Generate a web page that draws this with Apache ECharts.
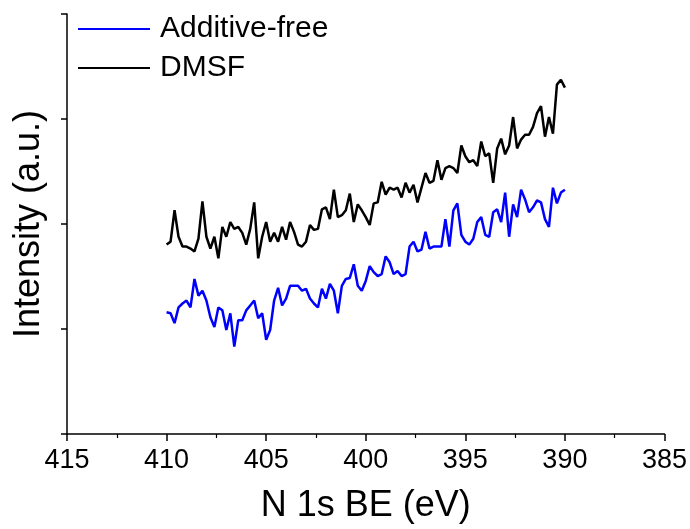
<!DOCTYPE html>
<html>
<head>
<meta charset="utf-8">
<script src="https://cdn.jsdelivr.net/npm/echarts@6/dist/echarts.min.js"></script>
<style>html,body{margin:0;padding:0;background:#fff}#c{width:690px;height:529px}</style>
</head>
<body>
<div id="c"></div>
<script>
// Binding energy scan grid (eV), 410 -> 390 in 0.2 eV steps
const energyStart = 410;
const energyStep = 0.2;
// Intensity (a.u.)
const additiveFree = [
  124,123,113,129,133,136,129,158,141,
  146,136,119,109,129,126,106,123,89,116,
  116,126,131,136,118,123,96,106,136,149,
  131,138,151,151,151,146,148,138,133,129,
  148,138,153,146,123,151,158,159,173,151,
  146,156,171,165,161,163,181,175,163,166,
  161,163,191,196,186,188,206,189,191,191,
  191,219,191,228,235,203,196,193,199,216,
  221,203,201,226,229,216,246,201,234,221,
  249,239,226,231,238,236,219,211,251,235,
  246,249
];
const dmsf = [
  193,196,228,201,191,191,189,186,199,
  237,201,189,201,179,211,201,216,209,211,
  205,193,209,236,179,201,216,196,205,196,
  211,198,216,206,193,191,196,213,208,209,
  229,231,219,249,221,223,228,245,216,234,
  228,221,213,235,236,257,244,251,249,251,
  241,256,246,254,236,251,266,256,258,279,
  259,271,273,271,266,294,283,277,279,273,
  298,283,286,256,291,301,285,294,323,291,
  300,305,305,313,327,334,303,323,306,356,
  361,353
];
const seriesNames = ['Additive-free', 'DMSF'];
const xTicks = [385, 390, 395, 400, 405, 410, 415];

const energy = additiveFree.map((_, i) => +(energyStart - energyStep * i).toFixed(1));
const pair = arr => arr.map((v, i) => [energy[i], v]);

const FONT = '"Liberation Sans", Arial, sans-serif';
const chart = echarts.init(document.getElementById('c'), null, {renderer: 'canvas'});
chart.setOption({
  animation: false,
  backgroundColor: '#fff',
  grid: {left: 67, right: 23, top: 14, bottom: 88, containLabel: false},
  legend: {
    orient: 'vertical', left: 73, top: 7,
    icon: 'rect', itemWidth: 72, itemHeight: 2, itemGap: 5,
    textStyle: {fontFamily: FONT, fontSize: 30, color: '#000', padding: [0, 0, 0, 5], lineHeight: 34},
    data: seriesNames
  },
  xAxis: {
    type: 'value', inverse: true,
    min: xTicks[0], max: xTicks[xTicks.length - 1], interval: 5,
    name: 'N 1s BE (eV)', nameLocation: 'middle', nameGap: 54,
    nameTextStyle: {fontFamily: FONT, fontSize: 36, color: '#000'},
    axisLine: {show: true, onZero: false, lineStyle: {color: '#000', width: 1.5}},
    axisTick: {show: true, length: 7, lineStyle: {color: '#000', width: 1.5}},
    minorTick: {show: true, splitNumber: 2, length: 4, lineStyle: {color: '#000', width: 1.2}},
    axisLabel: {fontFamily: FONT, fontSize: 27, color: '#000', margin: 13},
    splitLine: {show: false}
  },
  yAxis: {
    type: 'value', min: 0, max: 428, interval: 107,
    name: 'Intensity (a.u.)', nameLocation: 'middle', nameGap: 20, nameRotate: 90,
    nameTextStyle: {fontFamily: FONT, fontSize: 36, color: '#000'},
    axisLine: {show: true, onZero: false, lineStyle: {color: '#000', width: 1.5}},
    axisTick: {show: true, length: 6, lineStyle: {color: '#000', width: 1.5}},
    axisLabel: {show: false},
    splitLine: {show: false}
  },
  series: [
    {name: seriesNames[0], type: 'line', symbol: 'none', data: pair(additiveFree),
     lineStyle: {color: '#0000ff', width: 2.5}, itemStyle: {color: '#0000ff'}},
    {name: seriesNames[1], type: 'line', symbol: 'none', data: pair(dmsf),
     lineStyle: {color: '#000000', width: 2.5}, itemStyle: {color: '#000000'}}
  ]
});
</script>
</body>
</html>
